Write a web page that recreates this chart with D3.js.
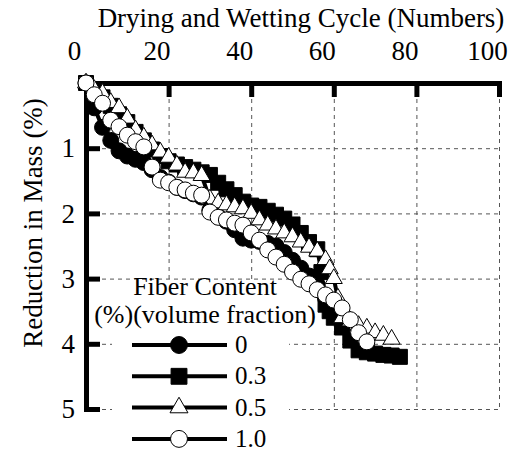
<!DOCTYPE html>
<html>
<head>
<meta charset="utf-8">
<script src="https://cdn.jsdelivr.net/npm/d3@7"></script>
<style>
  body { margin: 0; background: #fff; }
  svg { display: block; }
  svg text { font-family: "Liberation Serif", "Times New Roman", serif !important; fill: #000; }
</style>
</head>
<body>
<svg id="chart"></svg>
<script>
let width = 524
let height = 451

let xTicks = [0, 20, 40, 60, 80, 100]
let yTicks = [1, 2, 3, 4, 5]
let fiberLabels = ["0", "0.3", "0.5", "1.0"]

// fiber content 0 (filled circles)
let cycles0 = [0, 2, 4, 6, 8, 10, 12, 14, 16, 18, 20, 22, 24, 26, 28, 30, 32, 34, 36, 38, 40, 42, 44, 46, 48, 50, 52, 54, 56, 58, 60, 62]
let mass0 = [0, 0.38, 0.68, 0.88, 1.04, 1.12, 1.17, 1.22, 1.33, 1.45, 1.52, 1.6, 1.65, 1.7, 1.75, 1.95, 2.05, 2.12, 2.25, 2.38, 2.41, 2.43, 2.46, 2.5, 2.6, 2.72, 2.84, 2.96, 3.1, 3.3, 3.5, 3.62]

// fiber content 0.3 (filled squares)
let cycles03 = [0, 2, 4, 6, 8, 10, 12, 14, 16, 18, 20, 22, 24, 26, 28, 30, 32, 34, 36, 38, 40, 42, 44, 46, 48, 50, 52, 54, 56, 57, 58, 59, 60, 62, 64, 66, 68, 70, 72, 74, 76]
let mass03 = [0, 0.12, 0.22, 0.35, 0.48, 0.6, 0.75, 0.88, 1.02, 1.12, 1.2, 1.25, 1.29, 1.33, 1.37, 1.41, 1.53, 1.63, 1.72, 1.82, 1.88, 1.9, 1.96, 2.02, 2.08, 2.17, 2.3, 2.44, 2.55, 2.9, 3.4, 3.5, 3.6, 3.75, 3.95, 4.1, 4.13, 4.15, 4.17, 4.18, 4.2]

// fiber content 0.5 (open triangles)
let cycles05 = [0, 2, 4, 6, 8, 10, 12, 14, 16, 18, 20, 22, 24, 26, 28, 30, 32, 34, 36, 38, 40, 42, 44, 46, 48, 50, 52, 54, 56, 58, 59, 60, 61, 62, 64, 66, 68, 70, 72, 74]
let mass05 = [0, 0.1, 0.16, 0.3, 0.38, 0.54, 0.72, 0.83, 0.95, 1.06, 1.14, 1.26, 1.37, 1.38, 1.42, 1.78, 1.84, 1.87, 1.9, 1.93, 2.0, 2.1, 2.18, 2.24, 2.3, 2.36, 2.44, 2.52, 2.58, 2.71, 2.85, 3.0, 3.3, 3.6, 3.65, 3.72, 3.76, 3.83, 3.87, 3.93]

// fiber content 1.0 (open circles)
let cycles10 = [0, 2, 4, 6, 8, 10, 12, 14, 16, 18, 20, 22, 24, 26, 28, 30, 32, 34, 36, 38, 40, 42, 44, 46, 48, 50, 52, 54, 56, 58, 60, 62, 64, 66, 68]
let mass10 = [0, 0.18, 0.31, 0.57, 0.67, 0.8, 0.9, 0.98, 1.29, 1.49, 1.53, 1.6, 1.64, 1.69, 1.72, 1.98, 2.06, 2.1, 2.15, 2.18, 2.3, 2.41, 2.56, 2.67, 2.78, 2.9, 3.01, 3.08, 3.17, 3.25, 3.33, 3.45, 3.63, 3.83, 3.97]

let series = [
  { label: fiberLabels[0], cycles: cycles0, mass: mass0, shape: d3.symbolCircle, size: 201, fill: "#000" },
  { label: fiberLabels[1], cycles: cycles03, mass: mass03, shape: d3.symbolSquare, size: 225, fill: "#000" },
  { label: fiberLabels[2], cycles: cycles05, mass: mass05, shape: d3.symbolTriangle, size: 125, fill: "#fff" },
  { label: fiberLabels[3], cycles: cycles10, mass: mass10, shape: d3.symbolCircle, size: 201, fill: "#fff" }
]

let svg = d3.select("#chart").attr("width", width).attr("height", height)

let xScale = d3.scaleLinear().domain([0, 100]).range([86, 499])
let yScale = d3.scaleLinear().domain([0, 5]).range([83, 409])

// dashed grid
let grid = svg.append("g").attr("stroke", "#555").attr("stroke-width", 1).attr("stroke-dasharray", "4,4")
grid.selectAll(".vgrid")
  .data(xTicks.slice(1))
  .enter()
  .append("line")
  .attr("x1", d => xScale(d) + 0.5).attr("x2", d => xScale(d) + 0.5)
  .attr("y1", yScale(0)).attr("y2", yScale(5))
grid.selectAll(".hgrid")
  .data(yTicks)
  .enter()
  .append("line")
  .attr("x1", xScale(0)).attr("x2", xScale(100))
  .attr("y1", d => yScale(d) + 0.5).attr("y2", d => yScale(d) + 0.5)

// legend background hides the grid behind it
svg.append("rect")
  .attr("x", 112).attr("y", 281)
  .attr("width", 177).attr("height", 170)
  .attr("fill", "#fff")

// axes
let xAxis = d3.axisTop(xScale)
  .tickValues(xTicks)
  .tickFormat(d3.format("d"))
  .tickSizeInner(-14)
  .tickSizeOuter(0)
  .tickPadding(23)
let gx = svg.append("g")
  .attr("transform", "translate(0," + yScale(0) + ")")
  .call(xAxis)
  .attr("font-size", 27)
gx.select(".domain").attr("stroke-width", 5).attr("stroke-linecap", "square")
gx.selectAll(".tick line").attr("stroke-width", 5)
gx.selectAll(".tick text").attr("dx", -12)

let yAxis = d3.axisLeft(yScale)
  .tickValues(yTicks)
  .tickFormat(d3.format("d"))
  .tickSizeInner(-14)
  .tickSizeOuter(0)
  .tickPadding(11)
let gy = svg.append("g")
  .attr("transform", "translate(" + xScale(0) + ",0)")
  .call(yAxis)
  .attr("font-size", 27)
gy.select(".domain").attr("stroke-width", 5).attr("stroke-linecap", "square")
gy.selectAll(".tick line").attr("stroke-width", 5)

// axis titles
svg.append("text")
  .attr("x", 301).attr("y", 27)
  .attr("text-anchor", "middle")
  .style("font-size", "27px")
  .text("Drying and Wetting Cycle (Numbers)")

svg.append("text")
  .attr("transform", "translate(42,223) rotate(-90)")
  .attr("text-anchor", "middle")
  .style("font-size", "27px")
  .text("Reduction in Mass (%)")

// series: line then markers, each later series on top
let line = d3.line().x(d => xScale(d[0])).y(d => yScale(d[1]))

series.forEach(s => {
  let pts = s.cycles.map((c, i) => [c, s.mass[i]])
  svg.append("path")
    .datum(pts)
    .attr("d", line)
    .attr("fill", "none")
    .attr("stroke", "#000")
    .attr("stroke-width", 4)
  svg.append("g")
    .selectAll("path")
    .data(pts)
    .enter()
    .append("path")
    .attr("transform", d => "translate(" + xScale(d[0]) + "," + yScale(d[1]) + ")")
    .attr("d", d3.symbol().type(s.shape).size(s.size))
    .attr("fill", s.fill)
    .attr("stroke", "#000")
    .attr("stroke-width", 1)
})

// legend
svg.append("text")
  .attr("x", 205).attr("y", 295)
  .attr("text-anchor", "middle")
  .style("font-size", "26px")
  .text("Fiber Content")
svg.append("text")
  .attr("x", 205).attr("y", 323)
  .attr("text-anchor", "middle")
  .style("font-size", "26px")
  .text("(%)(volume fraction)")

let legend = svg.append("g")
  .selectAll("g")
  .data(series)
  .enter()
  .append("g")
  .attr("transform", (d, i) => "translate(0," + (345 + i * 31.3) + ")")

legend.append("line")
  .attr("x1", 132).attr("x2", 227)
  .attr("stroke", "#000")
  .attr("stroke-width", 4)
legend.append("path")
  .attr("transform", "translate(179,0)")
  .attr("d", d => d3.symbol().type(d.shape).size(d.size * 1.12)())
  .attr("fill", d => d.fill)
  .attr("stroke", "#000")
  .attr("stroke-width", 1)
legend.append("text")
  .attr("x", 235).attr("y", 8)
  .style("font-size", "25px")
  .text(d => d.label)
</script>
</body>
</html>
